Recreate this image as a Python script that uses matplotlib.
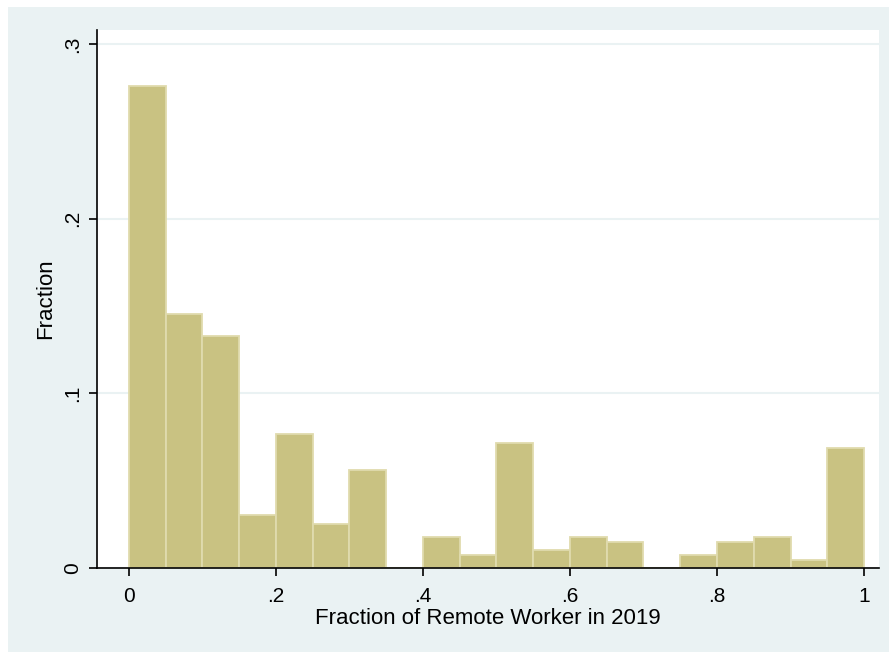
import numpy as np
import matplotlib.pyplot as plt
from matplotlib.patches import Rectangle

plt.rcParams['font.family'] = ['Liberation Sans', 'DejaVu Sans']

# histogram of remote work share, 20 bins of width .05
bin_edges = np.linspace(0, 1, 21)
fractions = [0.276, 0.1455, 0.1328, 0.0303, 0.0767, 0.0252, 0.0561, 0.0,
             0.0177, 0.0074, 0.0716, 0.0103, 0.0177, 0.0149, 0.0,
             0.0074, 0.0149, 0.0177, 0.0046, 0.0687]
xticks = [0, 0.2, 0.4, 0.6, 0.8, 1.0]
xtick_labels = ['0', '.2', '.4', '.6', '.8', '1']
yticks = [0, 0.1, 0.2, 0.3]
ytick_labels = ['0', '.1', '.2', '.3']

bg = '#EAF2F3'
fill = '#C9C282'
edge = '#E0DBAE'

fig = plt.figure(figsize=[8.89, 6.52], dpi=100)
fig.patch.set_facecolor(bg)
# thin white strips on top and left, as in the cropped original
fig.patches.append(Rectangle((0, 1 - 7 / 652), 1, 7 / 652, transform=fig.transFigure,
                             facecolor='white', edgecolor='none', zorder=-10))
fig.patches.append(Rectangle((0, 0), 8 / 889, 1, transform=fig.transFigure,
                             facecolor='white', edgecolor='none', zorder=-10))

ax = fig.add_axes([97 / 889, 84 / 652, 782 / 889, 538 / 652])
ax.set_facecolor('white')

widths = np.diff(bin_edges)
ax.bar(bin_edges[:-1], fractions, width=widths, align='edge',
       color=fill, edgecolor=edge, linewidth=1.3, zorder=3)

ax.set_xlim(-0.0435, 1.0204)
ax.set_ylim(0, 0.308)
ax.set_xticks(xticks)
ax.set_xticklabels(xtick_labels)
ax.set_yticks(yticks)
ax.set_yticklabels(ytick_labels, rotation=90, va='center')

ax.grid(axis='y', color=bg, linewidth=1.5, zorder=0)
ax.grid(axis='x', visible=False)
for s in ['top', 'right']:
    ax.spines[s].set_visible(False)
for s in ['left', 'bottom']:
    ax.spines[s].set_linewidth(1.2)
    ax.spines[s].set_zorder(5)

ax.tick_params(axis='both', direction='out', length=6, width=1.2, labelsize=15)
ax.tick_params(axis='x', pad=8)
ax.tick_params(axis='y', pad=5)

ax.set_xlabel('Fraction of Remote Worker in 2019', fontsize=16, labelpad=1)
ax.set_ylabel('Fraction', fontsize=16, labelpad=5)

plt.savefig('out.png', dpi=100, facecolor=fig.get_facecolor())
